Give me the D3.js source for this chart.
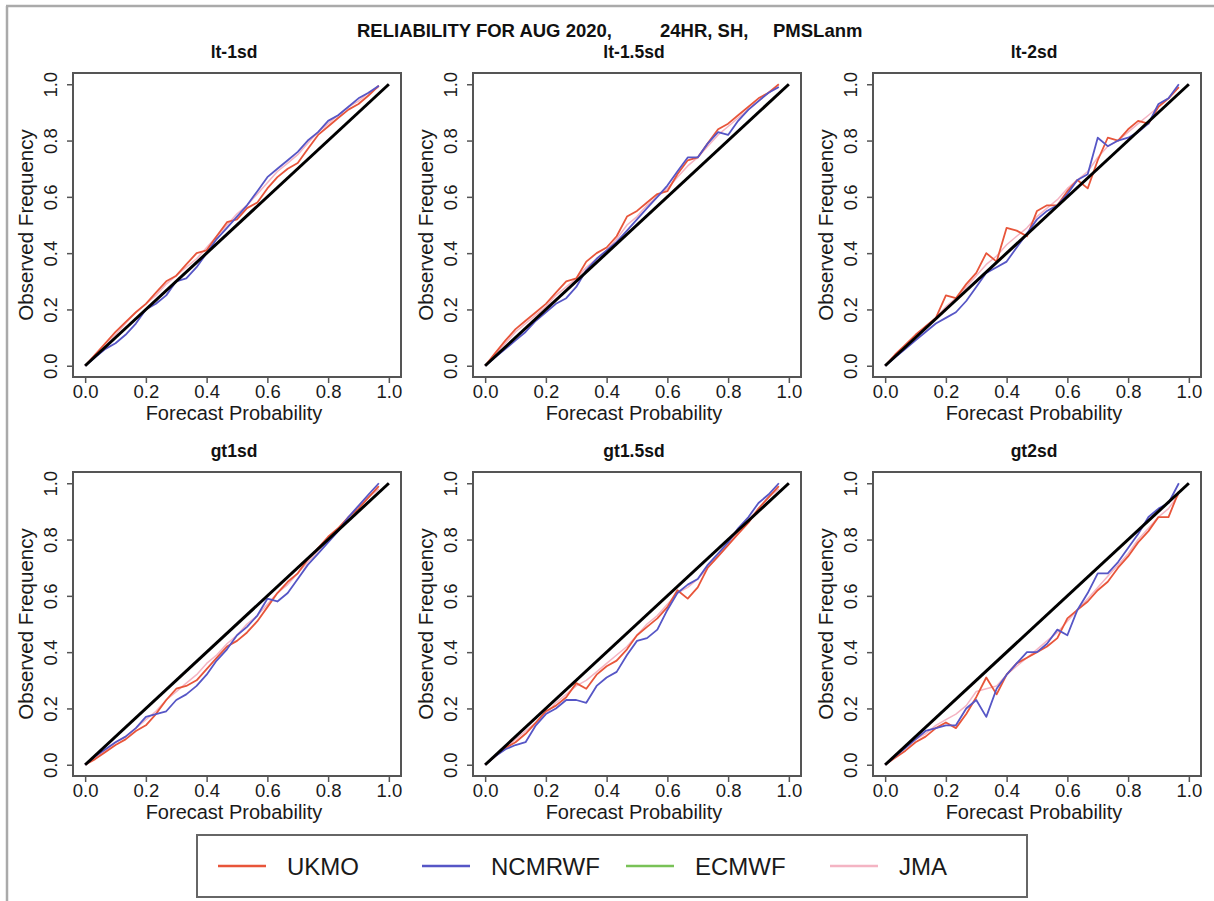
<!DOCTYPE html>
<html>
<head>
<meta charset="utf-8">
<script src="https://cdn.jsdelivr.net/npm/d3@7"></script>
<style>
  html, body { margin: 0; padding: 0; background: #fff; }
  svg { display: block; font-family: "Liberation Sans", Arial, Helvetica, sans-serif; }
</style>
</head>
<body>
<svg id="chart" width="1214" height="901"></svg>
<script>
// ---------------- DATA ----------------
const mainTitleParts = ["RELIABILITY FOR AUG 2020,", "24HR, SH,", "PMSLanm"];
const panelTitles = ["lt-1sd", "lt-1.5sd", "lt-2sd", "gt1sd", "gt1.5sd", "gt2sd"];
const models = ["UKMO", "NCMRWF", "ECMWF", "JMA"];
const modelColors = ["#e8553a", "#5656c6", "#79c257", "#f4b4c3"];
const tickValues = [0.0, 0.2, 0.4, 0.6, 0.8, 1.0];
const xLabel = "Forecast Probability";
const yLabel = "Observed Frequency";

// forecast-probability bins (x values)
const probBins = [0.000, 0.033, 0.067, 0.100, 0.133, 0.167, 0.200, 0.233, 0.267, 0.300,
                  0.333, 0.367, 0.400, 0.433, 0.467, 0.500, 0.533, 0.567, 0.600, 0.633,
                  0.667, 0.700, 0.733, 0.767, 0.800, 0.833, 0.867, 0.900, 0.933, 0.967];

// observed frequency per panel (order of panelTitles)
const ukmo = [
  [0, .04, .08, .12, .155, .19, .22, .26, .30, .32, .36, .40, .41, .46, .51, .52, .56, .58, .63, .67, .70, .72, .77, .82, .85, .88, .91, .93, .96, .995],
  [0, .045, .09, .13, .16, .19, .22, .26, .30, .31, .37, .40, .42, .46, .53, .55, .58, .61, .62, .68, .73, .74, .79, .84, .86, .89, .92, .95, .97, 1.0],
  [0, .04, .075, .11, .14, .17, .25, .24, .29, .33, .40, .37, .49, .48, .46, .55, .57, .57, .62, .66, .63, .73, .81, .80, .84, .87, .86, .92, .95, .99],
  [0, .02, .045, .07, .09, .12, .14, .18, .23, .27, .28, .30, .34, .38, .42, .44, .47, .51, .56, .61, .65, .68, .73, .77, .81, .84, .88, .91, .95, .99],
  [0, .03, .06, .08, .11, .15, .19, .21, .24, .29, .27, .32, .35, .37, .41, .46, .49, .52, .56, .62, .59, .63, .70, .74, .78, .82, .86, .91, .95, .99],
  [0, .025, .05, .08, .10, .13, .15, .13, .18, .24, .31, .25, .32, .36, .38, .40, .42, .45, .52, .55, .58, .62, .65, .70, .74, .79, .83, .88, .88, .97]
];
const ncmrwf = [
  [0, .03, .06, .08, .11, .15, .20, .22, .25, .30, .31, .35, .40, .45, .49, .53, .57, .62, .67, .70, .73, .76, .80, .83, .87, .89, .92, .95, .97, .995],
  [0, .03, .06, .09, .12, .16, .19, .22, .24, .28, .34, .38, .41, .44, .48, .52, .56, .60, .64, .69, .74, .74, .79, .83, .82, .87, .91, .94, .97, .99],
  [0, .03, .06, .09, .12, .15, .17, .19, .23, .28, .33, .35, .37, .42, .47, .52, .55, .57, .61, .66, .68, .81, .78, .80, .81, .83, .86, .93, .95, 1.0],
  [0, .03, .055, .08, .10, .13, .17, .18, .19, .23, .25, .28, .32, .37, .41, .46, .49, .53, .59, .58, .61, .66, .71, .75, .79, .83, .88, .92, .96, 1.0],
  [0, .03, .055, .07, .08, .14, .18, .20, .23, .23, .22, .28, .31, .33, .39, .44, .45, .48, .55, .61, .64, .66, .71, .75, .79, .84, .88, .93, .96, 1.0],
  [0, .03, .06, .09, .12, .13, .14, .14, .20, .23, .17, .27, .32, .36, .40, .40, .43, .48, .46, .55, .61, .68, .68, .72, .77, .82, .88, .91, .93, 1.0]
];
const ecmwf = [[], [], [], [], [], []];
const jma = [
  [0, .04, .07, .11, .15, .19, .22, .25, .29, .32, .35, .38, .42, .46, .50, .54, .57, .61, .65, .69, .72, .75, .79, .83, .86, .89, .92, .94, .97, .99],
  [0, .04, .08, .12, .15, .18, .21, .25, .28, .31, .35, .38, .41, .45, .50, .53, .57, .60, .63, .67, .71, .74, .78, .82, .85, .88, .91, .94, .97, .99],
  [0, .04, .07, .10, .14, .17, .21, .24, .28, .32, .36, .39, .43, .46, .49, .53, .56, .59, .63, .66, .69, .74, .78, .80, .83, .86, .89, .92, .95, .99],
  [0, .025, .05, .08, .10, .13, .16, .19, .23, .26, .29, .32, .36, .39, .43, .46, .50, .53, .57, .61, .64, .68, .72, .76, .80, .84, .88, .92, .95, .98],
  [0, .03, .06, .09, .12, .15, .18, .22, .25, .28, .30, .33, .36, .39, .42, .46, .50, .53, .57, .61, .63, .66, .70, .74, .78, .83, .87, .91, .95, .98],
  [0, .035, .06, .09, .11, .14, .16, .18, .21, .26, .27, .28, .32, .35, .38, .41, .44, .47, .51, .55, .59, .63, .67, .71, .75, .80, .84, .88, .91, .96]
];
const seriesByModel = [ukmo, ncmrwf, ecmwf, jma];

// ---------------- LAYOUT ----------------
const svg = d3.select("#chart");
const colLeft = [73, 473, 873];
const rowTop = [73, 472];
const boxW = 328, boxH = 304;
const textColor = "#1a1a1a";

// outer figure frame (top and left edges visible)
svg.append("line").attr("x1", 6).attr("x2", 1214).attr("y1", 6).attr("y2", 6)
  .attr("stroke", "#aaa").attr("stroke-width", 2.5);
svg.append("line").attr("x1", 7).attr("x2", 7).attr("y1", 6).attr("y2", 901)
  .attr("stroke", "#aaa").attr("stroke-width", 2.5);

// main title
const titleX = [357, 660, 773];
mainTitleParts.forEach((t, i) => {
  svg.append("text").attr("x", titleX[i]).attr("y", 37)
    .attr("font-size", 18.5).attr("font-weight", "bold").attr("fill", "#111")
    .text(t);
});

const line = (xs, ys) => d3.line().x((d, i) => xs(probBins[i])).y(d => ys(d));

panelTitles.forEach((title, p) => {
  const L = colLeft[p % 3], T = rowTop[Math.floor(p / 3)];
  const x = d3.scaleLinear().domain([-0.04, 1.04]).range([L, L + boxW]);
  const y = d3.scaleLinear().domain([-0.04, 1.04]).range([T + boxH, T]);
  const g = svg.append("g");

  // panel title
  g.append("text").attr("x", L + boxW / 2 - 3).attr("y", T - 15)
    .attr("text-anchor", "middle").attr("font-size", 17.5).attr("font-weight", "bold")
    .attr("fill", "#111").text(title);

  // series (JMA first so it sits underneath)
  const order = [3, 2, 0, 1];
  order.forEach(m => {
    const vals = seriesByModel[m][p];
    if (!vals.length) return;
    g.append("path").datum(vals)
      .attr("d", line(x, y))
      .attr("fill", "none")
      .attr("stroke", modelColors[m])
      .attr("stroke-width", m === 3 ? 1.5 : 1.8)
      .attr("stroke-linejoin", "round");
  });

  // perfect-reliability diagonal
  g.append("line")
    .attr("x1", x(0)).attr("y1", y(0)).attr("x2", x(1)).attr("y2", y(1))
    .attr("stroke", "#000").attr("stroke-width", 3);

  // box
  g.append("rect").attr("x", L).attr("y", T).attr("width", boxW).attr("height", boxH)
    .attr("fill", "none").attr("stroke", "#555").attr("stroke-width", 2);

  // x axis
  const xa = g.append("g").attr("transform", `translate(0,${T + boxH})`)
    .call(d3.axisBottom(x).tickValues(tickValues).tickSize(6).tickSizeOuter(0)
      .tickFormat(d3.format(".1f")));
  xa.select(".domain").remove();
  xa.selectAll(".tick line").attr("stroke", "#555").attr("stroke-width", 1.5);
  xa.selectAll(".tick text").attr("font-size", 18.5).attr("fill", textColor)
    .attr("font-family", null).attr("y", 21).attr("dy", 0);

  // y axis
  const ya = g.append("g").attr("transform", `translate(${L},0)`)
    .call(d3.axisLeft(y).tickValues(tickValues).tickSize(6).tickSizeOuter(0)
      .tickFormat(d3.format(".1f")));
  ya.select(".domain").remove();
  ya.selectAll(".tick line").attr("stroke", "#555").attr("stroke-width", 1.5);
  ya.selectAll(".tick text").attr("font-size", 18.5).attr("fill", textColor)
    .attr("font-family", null)
    .attr("text-anchor", "middle").attr("x", 0).attr("y", -16).attr("dy", 0)
    .attr("transform", "rotate(-90)");

  // axis titles
  g.append("text").attr("x", L + boxW / 2 - 3).attr("y", T + boxH + 43)
    .attr("text-anchor", "middle").attr("font-size", 20).attr("fill", textColor)
    .text(xLabel);
  g.append("text")
    .attr("transform", `translate(${L - 40},${T + boxH / 2}) rotate(-90)`)
    .attr("text-anchor", "middle").attr("font-size", 20.5).attr("fill", textColor)
    .text(yLabel);
});

// legend
const lg = svg.append("g");
lg.append("rect").attr("x", 197).attr("y", 835).attr("width", 830).attr("height", 62)
  .attr("fill", "none").attr("stroke", "#666").attr("stroke-width", 2);
const legendX = d3.scaleLinear().domain([0, 3]).range([218, 830]);
models.forEach((m, i) => {
  const x0 = legendX(i);
  lg.append("line").attr("x1", x0).attr("x2", x0 + 48).attr("y1", 866).attr("y2", 866)
    .attr("stroke", modelColors[i]).attr("stroke-width", 2.5);
  lg.append("text").attr("x", x0 + 69).attr("y", 875)
    .attr("font-size", 24).attr("fill", textColor).text(m);
});
</script>
</body>
</html>
